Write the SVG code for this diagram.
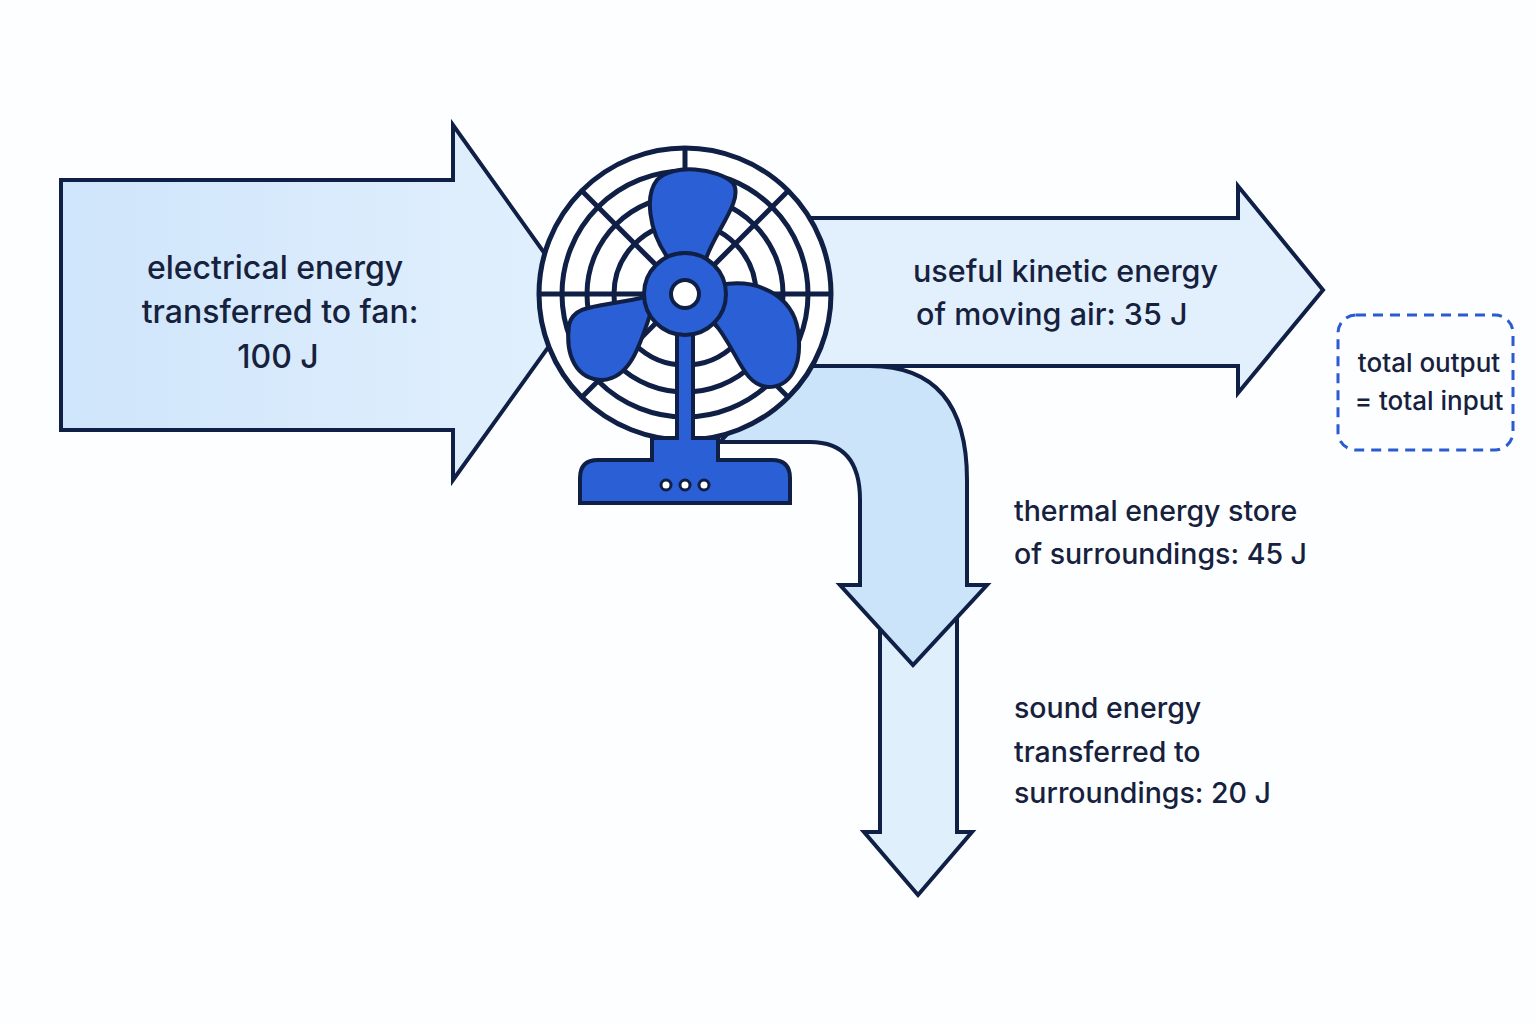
<svg xmlns="http://www.w3.org/2000/svg" width="1536" height="1024" viewBox="0 0 1536 1024">
<style>
.ar{stroke:#0f1f45;stroke-width:4;stroke-linejoin:miter}
.t{font-family:Inter,"Noto Sans",sans-serif;font-size:28.5px;fill:#16213d;font-weight:500}
.g{fill:none;stroke:#0f1f45;stroke-width:5}
.b{fill:#2a5fd6;stroke:#0f1f45;stroke-width:4}
</style>
<defs>
<linearGradient id="lg" x1="0" y1="0" x2="1" y2="0"><stop offset="0" stop-color="#cfe5fb"/><stop offset="1" stop-color="#e2f0fd"/></linearGradient>
</defs>
<rect width="1536" height="1024" fill="#fdfeff"/>
<g id="connectors">
<path id="sound" class="ar" fill="#e0effc" d="M880,620 L880,832 L864,832 L918,895 L972,832 L957,832 L957,620 Z"/>
<path id="thermal" class="ar" fill="#cbe4fa" d="M790,366 L870,366 Q967,366 967,480 L967,585 L987,585 L913,665 L840,585 L860,585 L860,500 Q860,442 810,442 L720,442 Z"/>
<path id="kinetic" class="ar" fill="#e2f0fd" d="M800,218 L1238,218 L1238,186 L1323,290 L1238,393 L1238,366 L800,366 Z"/>
<path id="input" class="ar" fill="url(#lg)" d="M61,180 L453,180 L453,125 L580,303 L453,480 L453,430 L61,430 Z"/>
</g>
<g id="fan">
<circle cx="685" cy="294" r="146" fill="#fff" stroke="#0f1f45" stroke-width="5"/>
<circle cx="685" cy="294" r="123" class="g"/>
<circle cx="685" cy="294" r="98" class="g"/>
<circle cx="685" cy="294" r="71" class="g"/>
<g class="g">
<line x1="539" y1="294" x2="831" y2="294"/>
<line x1="685" y1="148" x2="685" y2="440"/>
<line x1="582" y1="191" x2="788" y2="397"/>
<line x1="788" y1="191" x2="582" y2="397"/>
</g>
<path class="b" d="M668,258 C648,230 645,195 657,180 C672,163 718,168 733,183 C745,200 712,235 705,262 Z"/>
<path class="b" d="M720,285 C757,278 792,295 798,330 C803,367 790,387 768,387 C742,385 738,350 712,320 Z"/>
<path class="b" d="M650,315 C640,345 630,378 603,380 C576,380 565,355 569,325 C574,303 600,308 650,296 Z"/>
<path class="b" d="M677,330 L693,330 L693,438 L718,438 L718,460 L772,460 Q790,460 790,478 L790,503 L580,503 L580,478 Q580,460 598,460 L652,460 L652,438 L677,438 Z"/>
<circle cx="685" cy="294" r="41" class="b"/>
<circle cx="685" cy="294" r="14" fill="#fff" stroke="#0f1f45" stroke-width="4"/>
<g fill="#fff" stroke="#0f1f45" stroke-width="3"><circle cx="666" cy="485" r="5"/><circle cx="685" cy="485" r="5"/><circle cx="704" cy="485" r="5"/></g>
</g>
<g id="labels" class="t">
<g font-size="32"><text x="275" y="279" text-anchor="middle">electrical energy</text>
<text x="280" y="323" text-anchor="middle">transferred to fan:</text>
<text x="278" y="368" text-anchor="middle">100 J</text></g>
<g font-size="30.5"><text x="913" y="282">useful kinetic energy</text>
<text x="916" y="325">of moving air: 35 J</text></g>
<text x="1014" y="521">thermal energy store</text>
<text x="1014" y="564">of surroundings: 45 J</text>
<text x="1014" y="718">sound energy</text>
<text x="1014" y="762">transferred to</text>
<text x="1014" y="803">surroundings: 20 J</text>
</g>
<g id="total">
<rect x="1338" y="315" width="175" height="135" rx="18" fill="none" stroke="#2a5bd0" stroke-width="3" stroke-dasharray="10 7"/>
<g class="t"><g font-size="26">
<text x="1429" y="372" text-anchor="middle">total output</text>
<text x="1429" y="410" text-anchor="middle">= total input</text>
</g></g>
</g>
</svg>
